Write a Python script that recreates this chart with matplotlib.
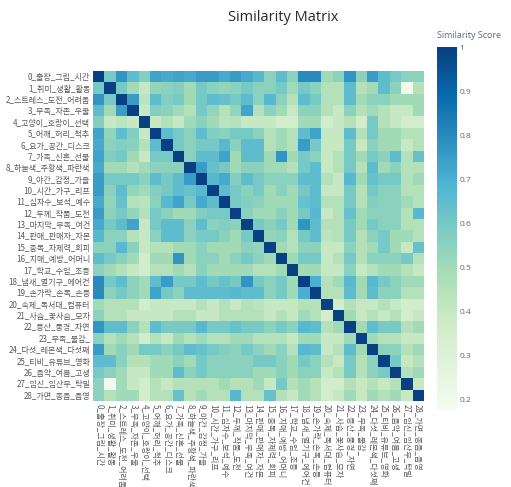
import numpy as np
import matplotlib
matplotlib.use("Agg")
import matplotlib.pyplot as plt

plt.rcParams['font.family'] = ['Noto Sans CJK KR', 'DejaVu Sans']

topics = [
    "0_출장_그림_시간", "1_취미_생활_활동", "2_스트레스_도전_어려움", "3_부족_자존_우울",
    "4_고양이_호랑이_선택", "5_어깨_허리_척추", "6_요가_공간_디스크", "7_가족_신혼_선물",
    "8_하늘색_주황색_파란색", "9_야간_감정_가을", "10_시간_가구_리프", "11_십자수_보석_예수",
    "12_두께_작품_도전", "13_마지막_부족_여건", "14_판매_판매자_자본", "15_중독_자제력_회피",
    "16_치매_예방_어머니", "17_학교_수업_초등", "18_냄새_열기구_에어컨", "19_손가락_손목_손등",
    "20_숙제_독서대_컴퓨터", "21_사슴_꽃사슴_모자", "22_등산_풍경_자연", "23_부족_물감_",
    "24_다섯_레몬색_다섯째", "25_티비_유튜브_영화", "26_음악_여름_고생", "27_임신_임산부_탁밀",
    "28_가면_종음_음영",
]

# lower triangle of the similarity matrix (row i holds columns 0..i-1)
lower = [
    [],
    [0.60],
    [0.77, 0.60],
    [0.65, 0.50, 0.75],
    [0.57, 0.40, 0.43, 0.40],
    [0.73, 0.53, 0.65, 0.57, 0.40],
    [0.71, 0.55, 0.57, 0.55, 0.45, 0.65],
    [0.73, 0.57, 0.60, 0.50, 0.40, 0.60, 0.60],
    [0.71, 0.50, 0.50, 0.45, 0.50, 0.55, 0.55, 0.55],
    [0.75, 0.60, 0.60, 0.60, 0.55, 0.65, 0.60, 0.65, 0.75],
    [0.75, 0.55, 0.65, 0.53, 0.50, 0.57, 0.60, 0.65, 0.63, 0.67],
    [0.71, 0.53, 0.63, 0.45, 0.43, 0.55, 0.67, 0.73, 0.60, 0.71, 0.65],
    [0.75, 0.55, 0.60, 0.53, 0.45, 0.60, 0.55, 0.50, 0.50, 0.57, 0.60, 0.60],
    [0.71, 0.60, 0.65, 0.73, 0.40, 0.60, 0.65, 0.65, 0.55, 0.65, 0.55, 0.57, 0.55],
    [0.67, 0.55, 0.55, 0.45, 0.40, 0.55, 0.65, 0.65, 0.55, 0.60, 0.60, 0.55, 0.50, 0.60],
    [0.55, 0.55, 0.67, 0.55, 0.40, 0.45, 0.45, 0.50, 0.50, 0.55, 0.50, 0.50, 0.50, 0.55, 0.53],
    [0.65, 0.60, 0.55, 0.50, 0.35, 0.50, 0.50, 0.77, 0.50, 0.55, 0.55, 0.50, 0.55, 0.60, 0.55, 0.50],
    [0.55, 0.50, 0.45, 0.40, 0.35, 0.45, 0.45, 0.50, 0.45, 0.55, 0.50, 0.50, 0.50, 0.50, 0.45, 0.45, 0.50],
    [0.80, 0.60, 0.65, 0.55, 0.50, 0.65, 0.75, 0.60, 0.60, 0.65, 0.60, 0.63, 0.60, 0.77, 0.60, 0.55, 0.60, 0.50],
    [0.80, 0.55, 0.60, 0.55, 0.50, 0.73, 0.60, 0.55, 0.65, 0.65, 0.65, 0.65, 0.67, 0.65, 0.65, 0.55, 0.60, 0.50, 0.70],
    [0.50, 0.45, 0.45, 0.45, 0.35, 0.40, 0.40, 0.40, 0.40, 0.45, 0.40, 0.45, 0.40, 0.45, 0.43, 0.40, 0.40, 0.40, 0.45, 0.45],
    [0.55, 0.45, 0.45, 0.40, 0.40, 0.40, 0.40, 0.45, 0.45, 0.40, 0.40, 0.45, 0.45, 0.45, 0.45, 0.40, 0.45, 0.40, 0.50, 0.45, 0.35],
    [0.77, 0.65, 0.65, 0.55, 0.45, 0.65, 0.60, 0.60, 0.60, 0.67, 0.60, 0.60, 0.63, 0.60, 0.60, 0.55, 0.60, 0.55, 0.67, 0.65, 0.45, 0.50],
    [0.55, 0.45, 0.50, 0.45, 0.35, 0.45, 0.40, 0.50, 0.45, 0.50, 0.45, 0.45, 0.50, 0.50, 0.45, 0.45, 0.45, 0.40, 0.50, 0.50, 0.40, 0.40, 0.50],
    [0.75, 0.50, 0.55, 0.50, 0.60, 0.60, 0.55, 0.60, 0.65, 0.63, 0.60, 0.57, 0.55, 0.60, 0.55, 0.50, 0.55, 0.45, 0.67, 0.65, 0.40, 0.45, 0.65, 0.50],
    [0.65, 0.65, 0.55, 0.45, 0.45, 0.50, 0.50, 0.55, 0.50, 0.60, 0.55, 0.55, 0.55, 0.55, 0.60, 0.60, 0.55, 0.50, 0.60, 0.55, 0.45, 0.40, 0.60, 0.45, 0.55],
    [0.60, 0.55, 0.50, 0.40, 0.40, 0.50, 0.50, 0.65, 0.55, 0.60, 0.55, 0.55, 0.55, 0.55, 0.50, 0.50, 0.55, 0.50, 0.55, 0.55, 0.40, 0.45, 0.60, 0.45, 0.55, 0.60],
    [0.55, 0.20, 0.50, 0.40, 0.35, 0.45, 0.40, 0.45, 0.45, 0.45, 0.45, 0.50, 0.45, 0.45, 0.50, 0.40, 0.60, 0.45, 0.50, 0.45, 0.35, 0.35, 0.45, 0.40, 0.45, 0.40, 0.45],
    [0.55, 0.45, 0.50, 0.50, 0.35, 0.45, 0.45, 0.63, 0.45, 0.50, 0.45, 0.45, 0.67, 0.45, 0.45, 0.63, 0.45, 0.40, 0.50, 0.45, 0.35, 0.40, 0.50, 0.40, 0.50, 0.45, 0.50, 0.40],
]

n = len(topics)
M = np.eye(n)
for i, row in enumerate(lower):
    for j, v in enumerate(row):
        M[i, j] = v
        M[j, i] = v

fig = plt.figure(figsize=(5.11, 4.87), dpi=100)
ax = fig.add_axes([0.182, 0.177, 0.646, 0.677])
im = ax.imshow(M, cmap='GnBu', vmin=0.175, vmax=1.0, aspect='auto',
               interpolation='nearest')
ax.set_xticks(range(n))
ax.set_yticks(range(n))
ax.set_xticklabels(topics, rotation=-90, fontsize=5.8, color='#5a5a5a',
                   ha='center', va='top')
ax.set_yticklabels(topics, fontsize=5.8, color='#5a5a5a')
ax.tick_params(length=0, pad=2)
for s in ax.spines.values():
    s.set_visible(False)

cax = fig.add_axes([0.855, 0.158, 0.039, 0.745])
cb = fig.colorbar(im, cax=cax)
cb.outline.set_visible(False)
cb.set_ticks([0.2, 0.3, 0.4, 0.5, 0.6, 0.7, 0.8, 0.9, 1.0])
cb.set_ticklabels(['0.2', '0.3', '0.4', '0.5', '0.6', '0.7', '0.8', '0.9', '1'])
cax.tick_params(length=0, labelsize=6, labelcolor='#666666', pad=2)
for t in cax.get_yticklabels():
    t.set_family(['Open Sans', 'DejaVu Sans'])
fig.text(0.855, 0.918, 'Similarity Score', fontsize=6.5, color='#5a6a80',
         ha='left', va='bottom', family=['Open Sans', 'DejaVu Sans'])

fig.text(0.554, 0.965, 'Similarity Matrix', fontsize=10.5, color='#2a2a2a',
         ha='center', va='center', fontweight='normal',
         family=['Open Sans', 'DejaVu Sans'])

fig.savefig('out.png', dpi=100)
